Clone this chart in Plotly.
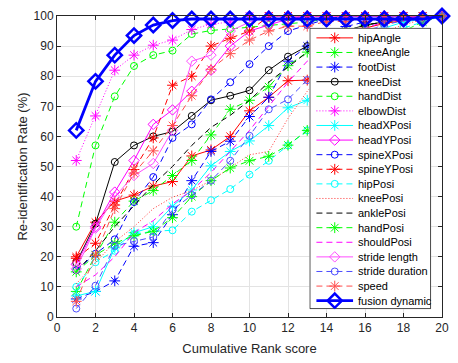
import plotly.graph_objects as go

# ---- data: cumulative re-identification rate (%) per rank ----
ranks = list(range(1, 21))

hip_angle = [20, 31.5, 38.5, 40.5, 43.5, 45, 53.5, 55.5, 60, 68.5, 73, 78.5, 78.7, 88, 94, 96, 97.5, 98.5, 99, 100]
knee_angle = [8.5, 20.5, 31.5, 38.5, 42, 47, 52, 60.5, 69, 72, 76.5, 83.5, 88, 92, 95, 97, 98, 99, 100, 100]
foot_dist = [6, 8.5, 12, 23.5, 24.7, 34, 45.3, 55, 58.4, 66.6, 73, 85, 90, 94, 96.5, 98, 99, 100, 100, 100]
knee_dist = [18, 31, 51.5, 57, 60, 61.6, 66.8, 72, 73.5, 75.3, 82, 86.5, 90, 93, 95, 97, 98, 99, 100, 100]
hand_dist = [30, 57, 73.3, 83.4, 87, 88.5, 94, 95.2, 95.7, 96.3, 97, 97.5, 98, 99, 100, 100, 100, 100, 100, 100]
elbow_dist = [52, 66.8, 82, 87, 90.3, 92, 95.5, 97.3, 98, 100, 100, 100, 100, 100, 100, 100, 100, 100, 100, 100]
head_x_posi = [7, 8.5, 23, 28, 30, 36.8, 42.2, 50.2, 55, 58.5, 63.6, 69.5, 72, 80, 88, 93, 96, 98, 99, 100]
head_y_posi = [17.5, 30, 41.5, 52, 64, 68.8, 75, 82, 90, 95, 97, 99, 100, 100, 100, 100, 100, 100, 100, 100]
spine_x_posi = [15.5, 21, 25.8, 38.2, 46.5, 59.5, 64, 72.3, 78, 84, 90, 95, 97, 99, 100, 100, 100, 100, 100, 100]
spine_y_posi = [19.5, 24.5, 37.2, 49, 59.5, 77, 80, 90, 92.6, 95, 100, 100, 100, 100, 100, 100, 100, 100, 100, 100]
hip_posi = [10, 18.2, 22, 27.5, 28.5, 28.8, 35, 38.8, 42.5, 47.3, 51.9, 57, 62, 72, 80, 88, 93, 96, 98, 100]
knee_posi = [11, 18, 25, 30, 36, 39.8, 42, 45.3, 49.5, 53.9, 55, 66, 75, 82, 88, 92, 95, 97, 99, 100]
ankle_posi = [15, 22, 30, 37, 44, 50, 57, 63, 67, 72, 78, 83, 88, 92, 95, 97, 98, 99, 100, 100]
hand_posi = [15, 20.5, 24.5, 27, 28.5, 33, 40, 45.3, 49.5, 51.9, 53.4, 57.1, 62, 70, 78, 85, 91, 95, 98, 100]
should_posi = [10, 14, 20, 28, 32, 37.6, 42, 48, 55, 62, 70, 78, 85, 90, 94, 96, 98, 99, 100, 100]
stride_length = [16, 29.5, 40, 47, 51, 62, 85, 87, 95, 98, 100, 100, 100, 100, 100, 100, 100, 100, 100, 100]
stride_duration = [2.8, 10.4, 23.6, 25.2, 26.6, 35.6, 40.5, 45.3, 51.9, 60.2, 69, 72.3, 78.7, 85, 91, 95, 97, 98.5, 99, 100]
speed = [5.2, 20.5, 36, 47.8, 55.2, 63.6, 73.5, 82.3, 87.5, 92, 95, 96.6, 96.6, 98.2, 98.2, 99, 99, 100, 100, 100]
fusion_dynamic = [62, 78.3, 87, 93.5, 97, 98.5, 99, 99, 99, 99, 99, 99, 99, 99, 99, 99, 99, 99, 99, 100]

# ---- styles: (name, values, colour, dash, marker, line width) ----
DASH = "6px,4px"
DOT = "1px,2px"
series = [
    ("hipAngle", hip_angle, "#ff0000", "solid", "asterisk-open", 1),
    ("kneeAngle", knee_angle, "#00ff00", DASH, "asterisk-open", 1),
    ("footDist", foot_dist, "#0000ff", DASH, "asterisk-open", 1),
    ("kneeDist", knee_dist, "#000000", "solid", "circle-open", 1),
    ("handDist", hand_dist, "#00ff00", DASH, "circle-open", 1),
    ("elbowDist", elbow_dist, "#ff00ff", DOT, "asterisk-open", 1),
    ("headXPosi", head_x_posi, "#00ffff", "solid", "asterisk-open", 1),
    ("headYPosi", head_y_posi, "#ff00ff", "solid", "diamond-open", 1),
    ("spineXPosi", spine_x_posi, "#0000ff", DASH, "circle-open", 1),
    ("spineYPosi", spine_y_posi, "#ff0000", DASH, "asterisk-open", 1),
    ("hipPosi", hip_posi, "#00ffff", DASH, "circle-open", 1),
    ("kneePosi", knee_posi, "#ff3333", DOT, None, 1),
    ("anklePosi", ankle_posi, "#000000", DASH, None, 1),
    ("handPosi", hand_posi, "#00ff00", DASH, "asterisk-open", 1),
    ("shouldPosi", should_posi, "#ff00ff", DASH, None, 1),
    ("stride length", stride_length, "#ff4dff", "solid", "diamond-open", 1),
    ("stride duration", stride_duration, "#4d4dff", DASH, "circle-open", 1),
    ("speed", speed, "#ff4d4d", DASH, "asterisk-open", 1),
    ("fusion dynamic", fusion_dynamic, "#0000ff", "solid", "diamond-open", 2.8),
]

MARKER_SIZE = {"asterisk-open": 9, "circle-open": 7, "diamond-open": 8}
FONT = "Liberation Sans, Arial, Helvetica, sans-serif"
TXT = "#262626"


def marker_style(symbol, colour, lw):
    if symbol is None:
        return None
    thick = lw > 2
    return dict(
        symbol=symbol,
        size=11 if thick else MARKER_SIZE[symbol],
        color=colour,
        line=dict(color=colour, width=2.5 if thick else 1),
    )


fig = go.Figure()

# data curves
for name, vals, colour, dash, symbol, lw in series:
    mk = marker_style(symbol, colour, lw)
    fig.add_trace(go.Scatter(
        x=ranks, y=vals, name=name,
        mode="lines+markers" if mk else "lines",
        line=dict(color=colour, width=lw, dash=dash),
        marker=mk, cliponaxis=False, showlegend=False,
        xaxis="x", yaxis="y",
    ))

# ---- legend panel drawn on its own small axes ----
BOX_W, BOX_H = 124, 289
ITEM_Y0, ITEM_STEP = 10, 15.04
fig.add_trace(go.Scatter(
    x=[0, BOX_W, BOX_W, 0, 0], y=[0, 0, BOX_H, BOX_H, 0],
    mode="lines", fill="toself", fillcolor="white",
    line=dict(color=TXT, width=1), showlegend=False,
    hoverinfo="skip", xaxis="x2", yaxis="y2",
))
annotations = []
for i, (name, vals, colour, dash, symbol, lw) in enumerate(series):
    yy = ITEM_Y0 + i * ITEM_STEP
    fig.add_trace(go.Scatter(
        x=[6.7, 44.3], y=[yy, yy], mode="lines",
        line=dict(color=colour, width=lw, dash=dash),
        showlegend=False, hoverinfo="skip", xaxis="x2", yaxis="y2",
    ))
    mk = marker_style(symbol, colour, lw)
    if mk:
        fig.add_trace(go.Scatter(
            x=[25.5], y=[yy], mode="markers", marker=mk,
            showlegend=False, hoverinfo="skip", xaxis="x2", yaxis="y2",
        ))
    annotations.append(dict(
        x=47.5, y=yy, xref="x2", yref="y2", text=name, showarrow=False,
        xanchor="left", yanchor="middle",
        font=dict(family=FONT, size=11, color="#000000"),
    ))

L, R, T, B = 57, 9, 14, 40
W, H = 458, 363
pw, ph = W - L - R, H - T - B
bx0, bx1 = 314, 438
by0, by1 = 26, 315

axis_common = dict(
    showline=True, linecolor=TXT, linewidth=1, mirror="ticks",
    ticks="inside", ticklen=4, tickcolor=TXT,
    showgrid=True, gridcolor="#e3e3e3", gridwidth=1, zeroline=False,
    tickfont=dict(family=FONT, size=12, color=TXT),
)

fig.update_layout(
    width=W, height=H,
    margin=dict(l=L, r=R, t=T, b=B),
    paper_bgcolor="white", plot_bgcolor="white",
    showlegend=False,
    xaxis=dict(
        range=[0, 20], tickmode="array", tickvals=list(range(0, 21, 2)),
        title=dict(text="Cumulative Rank score", standoff=9,
                   font=dict(family=FONT, size=13, color=TXT)),
        **axis_common,
    ),
    yaxis=dict(
        range=[0, 100], tickmode="array", tickvals=list(range(0, 101, 10)),
        title=dict(text="Re-identification Rate (%)", standoff=3,
                   font=dict(family=FONT, size=13, color=TXT)),
        **axis_common,
    ),
    xaxis2=dict(
        domain=[(bx0 - L) / pw, (bx1 - L) / pw], anchor="y2",
        range=[-0.5, BOX_W + 0.5], visible=False, showgrid=False,
    ),
    yaxis2=dict(
        domain=[(H - B - by1) / ph, (H - B - by0) / ph], anchor="x2",
        range=[BOX_H + 0.5, -0.5], visible=False, showgrid=False,
    ),
    annotations=annotations,
)

fig.write_html("out.html")
